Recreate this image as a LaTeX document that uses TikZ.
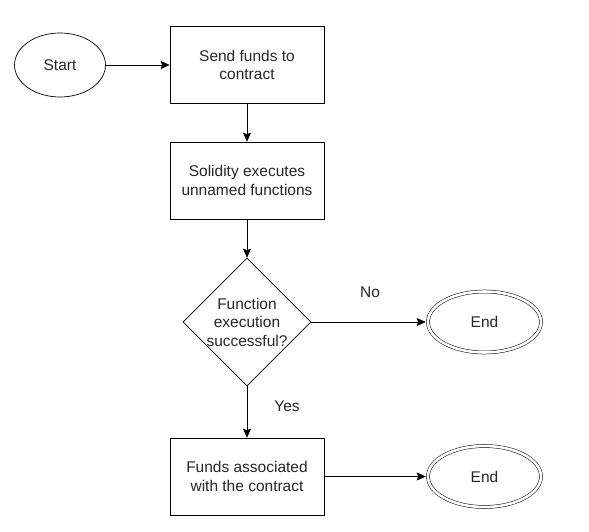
\documentclass[tikz,border=0pt]{standalone}
\usepackage{fontspec}
\setmainfont{Liberation Sans}
\usetikzlibrary{shapes.geometric,arrows.meta,positioning}

\begin{document}
\begin{tikzpicture}[x=1pt, y=-1pt,
  every node/.style={font=\fontsize{15.5}{18.5}\selectfont, text=black!85},
  box/.style={rectangle, draw, line width=0.7pt, minimum width=154pt, minimum height=77pt, text centered, align=center},
  term/.style={ellipse, draw, line width=0.7pt, minimum width=91pt, minimum height=64pt},
  stopnode/.style={ellipse, draw, line width=0.5pt, double, double distance=2.6pt, minimum width=113pt, minimum height=61pt},
  decision/.style={diamond, draw, line width=0.6pt, minimum width=128pt, minimum height=128pt, inner sep=0pt},
  arrow/.style={-{Stealth[length=9pt, width=8pt, inset=1.5pt]}, line width=0.7pt}
]
  \useasboundingbox (0,0) rectangle (589,532);

  \node[term] (start) at (60,65) {Start};
  \node[box] (send) at (247,65) {Send funds to \\ contract};
  \node[box] (execute) at (247,180.5) {Solidity executes \\ unnamed functions};
  \node[decision, label={[align=center]center:Function\\execution\\successful?}] (check) at (247,322) {};
  \node[stopnode] (endfail) at (484.5,322) {End};
  \node[box] (funds) at (247,476.5) {Funds associated \\ with the contract};
  \node[stopnode] (endok) at (484.5,476.5) {End};

  \node (no) at (370,292) {No};
  \node (yes) at (287,406) {Yes};

  \draw[arrow] (start) -- (send);
  \draw[arrow] (send) -- (execute);
  \draw[arrow] (execute) -- (check);
  \draw[arrow, shorten >=2pt] (check) -- (endfail);
  \draw[arrow] (check) -- (funds);
  \draw[arrow, shorten >=2pt] (funds) -- (endok);
\end{tikzpicture}
\end{document}
